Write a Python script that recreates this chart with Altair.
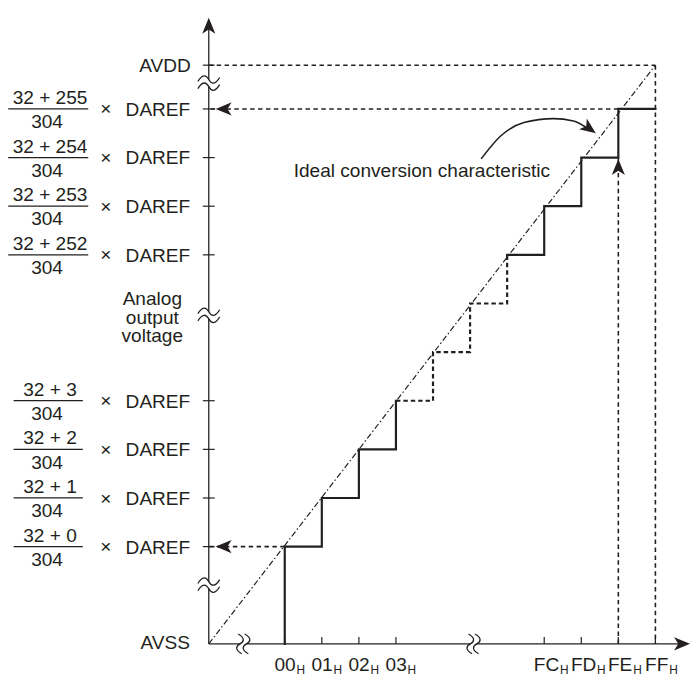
import altair as alt
import pandas as pd

# ---------------- data ----------------
code_labels = ["00", "01", "02", "03", "FC", "FD", "FE", "FF"]
code_pos = [0, 1, 2, 3, 7, 8, 9, 10]            # code positions along x (code steps)
level_nums = [0, 1, 2, 3, 252, 253, 254, 255]   # numerators "32 + n"
level_pos = [0, 1, 2, 3, 6, 7, 8, 9]            # output level positions along y
step_x = [0, 1, 2, 3, 4, 5, 6, 7, 8, 9, 10]     # rising edges of the staircase
step_level = [0, 1, 2, 3, 4, 5, 6, 7, 8, 9]     # level held after each edge
elided_from, elided_to = 3, 6                   # part of the staircase drawn dashed
denominator = 304
axis_x0 = -2.05      # AVSS on x
axis_y0 = -2.0       # AVSS on y
avdd_level = 9.9     # AVDD
full_code = 10       # FF
fe_code = 9          # FE
fe_level = 9         # level reached at FE
fd_level = 8         # level reached at FD
title_lines = ["Analog", "output", "voltage"]

# ---------------- layout ----------------
W, H, M = 690, 670, 8
PX_C0, PX_PER_C = 288.0, 37.5
PY_L0, PX_PER_L = 549.0, 49.2


def cx(px):
    return (px - PX_C0) / PX_PER_C


def ly(py):
    return (PY_L0 - py) / PX_PER_L


INK = "#231f20"
FONT = "Liberation Sans"
FS = 19.3

xs = alt.Scale(domain=[cx(M), cx(M + W)], nice=False, zero=False)
ys = alt.Scale(domain=[ly(M + H), ly(M)], nice=False, zero=False)


def X(f="x"):
    return alt.X(f"{f}:Q", scale=xs, axis=None)


def Y(f="y"):
    return alt.Y(f"{f}:Q", scale=ys, axis=None)


ARROW = "M 0 0 L -2.3 -0.95 L -1.7 0 L -2.3 0.95 Z"   # tip at centre, pointing right
ARROW_SIZE = 196


def tilde(o):
    return (f"M -1 {o + 0.18} C -0.6 {o - 0.5} -0.25 {o - 0.45} 0 {o} "
            f"C 0.25 {o + 0.45} 0.6 {o + 0.5} 1 {o - 0.18}")


# ---------------- axes ----------------
axes_df = pd.DataFrame({
    "x": [axis_x0, axis_x0], "y": [axis_y0, axis_y0],
    "x2": [axis_x0, cx(694)], "y2": [ly(20), axis_y0],
})
axes = alt.Chart(axes_df).mark_rule(color=INK, strokeWidth=1.3).encode(
    x=X("x"), y=Y("y"), x2="x2:Q", y2="y2:Q")

axis_arrows_df = pd.DataFrame({"x": [axis_x0, cx(698)], "y": [ly(14), axis_y0], "a": [270, 0]})
axis_arrows = alt.Chart(axis_arrows_df).mark_point(
    shape=ARROW, size=ARROW_SIZE, filled=True, color=INK, opacity=1, strokeWidth=0
).encode(x=X("x"), y=Y("y"), angle=alt.Angle("a:Q", scale=None))

yticks_df = pd.DataFrame({"x": axis_x0, "y": level_pos + [avdd_level]})
yticks = alt.Chart(yticks_df).mark_point(
    shape="M -1 0 L 1 0", size=144, filled=False, stroke=INK, strokeWidth=1.2, opacity=1
).encode(x=X("x"), y=Y("y"))

xticks_df = pd.DataFrame({"x": code_pos, "y": axis_y0})
xticks = alt.Chart(xticks_df).mark_point(
    shape="M 0 -1 L 0 0", size=196, filled=False, stroke=INK, strokeWidth=1.2, opacity=1
).encode(x=X("x"), y=Y("y"))

# ---------------- axis breaks ----------------
ybreak_df = pd.DataFrame({"x": axis_x0, "y": [ly(80), ly(315), ly(588)]})
xbreak_df = pd.DataFrame({"x": [cx(246), cx(479)], "y": axis_y0})
MASK = "M -0.25 -0.3 L 0.25 -0.3 L 0.25 0.3 L -0.25 0.3 Z"
TILDES = tilde(-0.33) + " " + tilde(0.33)


def breaks(df, size, angle):
    mask = alt.Chart(df).mark_point(
        shape=MASK, size=size, filled=True, color="white", opacity=1, strokeWidth=0, angle=angle
    ).encode(x=X("x"), y=Y("y"))
    curves = alt.Chart(df).mark_point(
        shape=TILDES, size=size, filled=False, stroke=INK, strokeWidth=1.3, opacity=1, angle=angle
    ).encode(x=X("x"), y=Y("y"))
    return mask + curves


ybreaks = breaks(ybreak_df, 484, 0)
xbreaks = breaks(xbreak_df, 400, 90)

# ---------------- guides (thin dashed) ----------------
guides_df = pd.DataFrame({
    "x": [axis_x0, full_code, fe_code, 0, fe_code],
    "y": [avdd_level, avdd_level, fe_level, 0, axis_y0],
    "x2": [full_code, full_code, axis_x0, axis_x0, fe_code],
    "y2": [avdd_level, axis_y0, fe_level, 0, fd_level],
})
guides = alt.Chart(guides_df).mark_rule(color=INK, strokeWidth=1.6, strokeDash=[4.5, 3.5]).encode(
    x=X("x"), y=Y("y"), x2="x2:Q", y2="y2:Q")

garrows_df = pd.DataFrame({
    "x": [axis_x0 + 7 / PX_PER_C, axis_x0 + 7 / PX_PER_C, fe_code],
    "y": [fe_level, 0, fd_level - 1.5 / PX_PER_L],
    "a": [180, 180, 270],
})
garrows = alt.Chart(garrows_df).mark_point(
    shape=ARROW, size=ARROW_SIZE, filled=True, color=INK, opacity=1, strokeWidth=0
).encode(x=X("x"), y=Y("y"), angle=alt.Angle("a:Q", scale=None))

# ---------------- staircase ----------------
verts = [(step_x[0], axis_y0)]
for i, lv in enumerate(step_level):
    verts.append((step_x[i], lv))
    verts.append((step_x[i + 1], lv))
i_from = 1 + 2 * elided_from
i_to = 1 + 2 * elided_to
pieces = [("a", 0, i_from, "solid"), ("b", i_from, i_to, "dashed"), ("c", i_to, len(verts) - 1, "solid")]
rows = []
for name, a, b, style in pieces:
    for k in range(a, b + 1):
        rows.append({"x": verts[k][0], "y": verts[k][1], "seg": name, "o": k, "style": style})
stair_df = pd.DataFrame(rows)

stair_solid = alt.Chart(stair_df[stair_df["style"] == "solid"]).mark_line(
    color=INK, strokeWidth=2.2, strokeCap="square"
).encode(x=X("x"), y=Y("y"), detail="seg:N", order="o:Q")
stair_dashed = alt.Chart(stair_df[stair_df["style"] == "dashed"]).mark_line(
    color=INK, strokeWidth=2.2, strokeDash=[4.5, 3]
).encode(x=X("x"), y=Y("y"), detail="seg:N", order="o:Q")

# ---------------- ideal characteristic ----------------
ideal_df = pd.DataFrame({"x": [axis_x0, full_code], "y": [axis_y0, avdd_level], "o": [0, 1]})
ideal = alt.Chart(ideal_df).mark_line(
    color=INK, strokeWidth=1.2, strokeDash=[6, 2.5, 1.5, 2.5]
).encode(x=X("x"), y=Y("y"), order="o:Q")

# ---------------- annotation ----------------
curve_px = [(486.7, 156.7), (506.7, 133.3), (530, 120), (560, 116), (580, 118.3), (594, 125.5)]
curve_df = pd.DataFrame({"x": [cx(p[0]) for p in curve_px], "y": [ly(p[1]) for p in curve_px],
                         "o": list(range(len(curve_px)))})
curve = alt.Chart(curve_df).mark_line(color=INK, strokeWidth=1.6, interpolate="monotone").encode(
    x=X("x"), y=Y("y"), order="o:Q")
curve_head = alt.Chart(pd.DataFrame({"x": [cx(602.7)], "y": [ly(130.7)]})).mark_point(
    shape=ARROW, size=ARROW_SIZE, filled=True, color=INK, opacity=1, strokeWidth=0, angle=36
).encode(x=X("x"), y=Y("y"))

note = alt.Chart(pd.DataFrame({"x": [cx(297)], "y": [ly(175)], "t": ["Ideal conversion characteristic"]})
                 ).mark_text(font=FONT, fontSize=FS, color=INK, align="left", baseline="alphabetic").encode(
    x=X("x"), y=Y("y"), text="t:N")

# ---------------- y labels ----------------
ylab_df = pd.DataFrame({
    "y": level_pos,
    "num": [f"32 + {n}" for n in level_nums],
    "den": [str(denominator)] * len(level_pos),
    "xn": cx(50.5), "xd": cx(47.5), "xm": cx(107), "xr": cx(127),
    "b1": [cx(48.7 - (40.5 if n >= 100 else 35)) for n in level_nums],
    "b2": [cx(48.7 + (40.5 if n >= 100 else 35)) for n in level_nums],
})
txt = dict(font=FONT, fontSize=FS, color=INK, baseline="alphabetic")
num = alt.Chart(ylab_df).mark_text(align="center", dy=-5, **txt).encode(x=X("xn"), y=Y("y"), text="num:N")
den = alt.Chart(ylab_df).mark_text(align="center", dy=19.5, **txt).encode(x=X("xd"), y=Y("y"), text="den:N")
bars = alt.Chart(ylab_df).mark_rule(color=INK, strokeWidth=1.3).encode(x=X("b1"), x2="b2:Q", y=Y("y"))
times = alt.Chart(ylab_df).mark_text(align="center", dy=6.6, **txt).encode(
    x=X("xm"), y=Y("y"), text=alt.value("×"))
daref = alt.Chart(ylab_df).mark_text(align="left", dy=7, **txt).encode(
    x=X("xr"), y=Y("y"), text=alt.value("DAREF"))

avdd_t = alt.Chart(pd.DataFrame({"x": [cx(193)], "y": [avdd_level], "t": ["AVDD"]})).mark_text(
    align="right", dy=6.7, **txt).encode(x=X("x"), y=Y("y"), text="t:N")
avss_t = alt.Chart(pd.DataFrame({"x": [cx(192)], "y": [axis_y0], "t": ["AVSS"]})).mark_text(
    align="right", dy=5.3, **txt).encode(x=X("x"), y=Y("y"), text="t:N")

ytitle_df = pd.DataFrame({"x": cx(154), "y": [ly(305 + 18.4 * k) for k in range(len(title_lines))],
                          "t": title_lines})
ytitle = alt.Chart(ytitle_df).mark_text(align="center", **txt).encode(
    x=X("x"), y=Y("y"), text="t:N")

# ---------------- x labels ----------------
W_EM = {"0": 0.556, "1": 0.556, "2": 0.556, "3": 0.556, "F": 0.611, "C": 0.722, "D": 0.722, "E": 0.667}
xlab_df = pd.DataFrame({
    "lab": code_labels,
    "xl": [p - 10.5 / PX_PER_C for p in code_pos],
    "xh": [p + (-10.5 + sum(W_EM[c] for c in lab) * FS + 0.8) / PX_PER_C
           for p, lab in zip(code_pos, code_labels)],
    "yl": ly(675), "yh": ly(677.6),
})
xlab = alt.Chart(xlab_df).mark_text(align="left", **txt).encode(x=X("xl"), y=Y("yl"), text="lab:N")
xsub = alt.Chart(xlab_df).mark_text(align="left", font=FONT, fontSize=12, color=INK,
                                    baseline="alphabetic").encode(
    x=X("xh"), y=Y("yh"), text=alt.value("H"))

chart = alt.layer(
    axes, ybreaks, xbreaks, yticks, xticks,
    guides, ideal, stair_dashed, stair_solid,
    garrows, axis_arrows, curve, curve_head,
    note, num, den, bars, times, daref, avdd_t, avss_t, ytitle, xlab, xsub,
).properties(
    width=W, height=H, padding=0, autosize=alt.AutoSizeParams(type="none")
).configure_view(stroke=None)

chart.save("out.html", embed_options={"renderer": "svg", "actions": False})
